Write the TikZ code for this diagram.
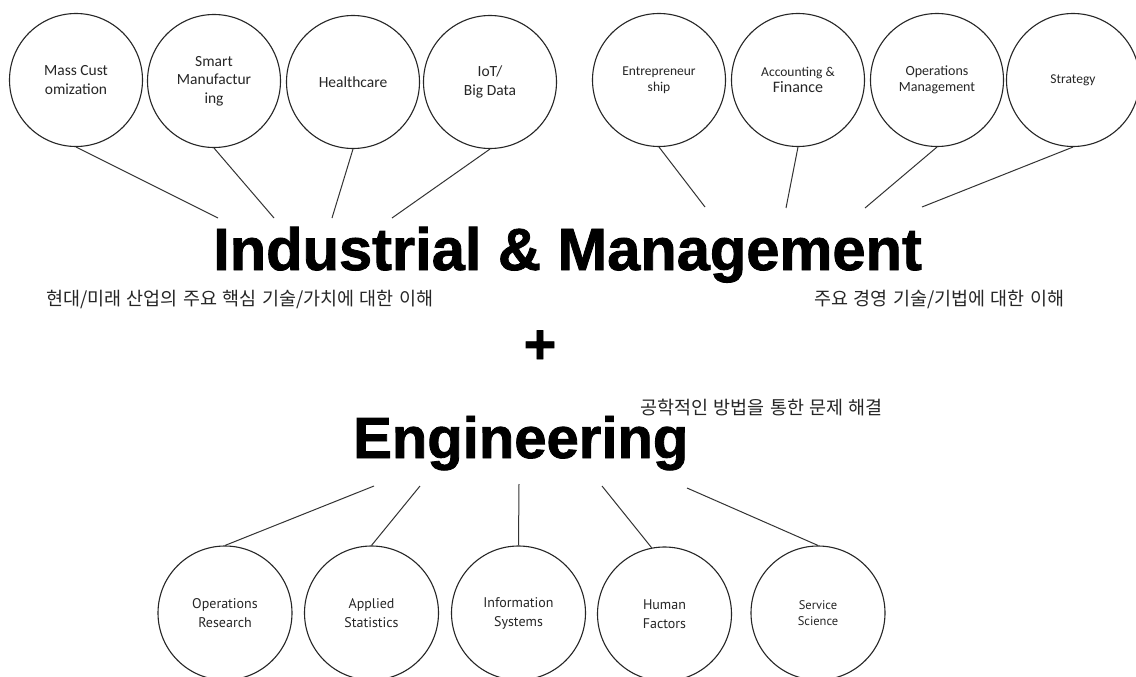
\documentclass[tikz,border=0pt]{standalone}
\usepackage{fontspec}
\setmainfont{Carlito}
\newfontfamily\titlefont[FakeBold=1.4]{Liberation Sans}
\newfontfamily\krfont[WordSpace=1.3]{Noto Sans CJK KR}
\newfontfamily\ptfont{PT Sans}
\begin{document}
\begin{tikzpicture}[x=1pt,y=-1pt,
  topc/.style={circle, draw=black!85, line width=1.1pt, minimum size=133pt, inner sep=0pt, align=center, font=\fontsize{15.5}{18.5}\selectfont, text=black!85},
  botc/.style={circle, draw=black!85, line width=1.1pt, minimum size=134pt, inner sep=0pt, align=center, font=\ptfont\fontsize{14}{19}\selectfont, text=black!85},
  conn/.style={draw=black!80, line width=1pt},
  title/.style={font=\titlefont\bfseries\fontsize{59.6}{60}\selectfont, inner sep=0pt},
  kr/.style={font=\krfont\fontsize{18.5}{21}\selectfont, inner sep=0pt, text=black!85}
]
\useasboundingbox[fill=white] (0,0) rectangle (1136,677);

% top circles
\node[topc] (c1) at (76,80) {Mass Cust\\omization};
\node[topc] (c2) at (214,81) {Smart\\Manufactur\\ing};
\node[topc] (c3) at (353,82) {Healthcare};
\node[topc] (c4) at (490,82) {IoT/\\Big Data};
\node[topc, font=\fontsize{13.5}{16}\selectfont] (c5) at (659,80) {Entrepreneur\\ship};
\node[topc, font=\fontsize{13.5}{16}\selectfont] (c6) at (798,80) {Accounting \&\\{\fontsize{16}{16}\selectfont Finance}};
\node[topc, font=\fontsize{14}{16}\selectfont] (c7) at (937,80) {Operations\\Management};
\node[topc, font=\fontsize{13.5}{16}\selectfont] (c8) at (1073,80) {Strategy};

\coordinate (e1) at (218,218);
\coordinate (e2) at (274,218);
\coordinate (e3) at (332,218);
\coordinate (e4) at (392,218);
\coordinate (e5) at (705,207);
\coordinate (e6) at (786,208);
\coordinate (e7) at (865,208);
\coordinate (e8) at (922,207);

\draw[conn] (c1.south) -- (e1);
\draw[conn] (c2.south) -- (e2);
\draw[conn] (c3.south) -- (e3);
\draw[conn] (c4.south) -- (e4);
\draw[conn] (c5.south) -- (e5);
\draw[conn] (c6.south) -- (e6);
\draw[conn] (c7.south) -- (e7);
\draw[conn] (c8.south) -- (e8);

% titles
\node[title, anchor=base west] (t1) at (213,270) {Industrial \& Management};
\node[kr, anchor=west] (k1) at (46,300) {현대/미래 산업의 주요 핵심 기술/가치에 대한 이해};
\node[kr, anchor=west] (k2) at (814,300) {주요 경영 기술/기법에 대한 이해};
\node[title, font=\titlefont\bfseries\fontsize{56}{56}\selectfont] (plus) at (540,347) {+};
\node[kr, anchor=west] (k3) at (640,408) {공학적인 방법을 통한 문제 해결};
\node[title, anchor=base west, font=\titlefont\bfseries\fontsize{58}{58}\selectfont] (t2) at (353,458) {Engineering};

% bottom circles
\node[botc] (b1) at (225,613) {Operations\\Research};
\node[botc] (b2) at (371.5,613) {Applied\\Statistics};
\node[botc] (b3) at (518.5,613) {Information\\Systems};
\node[botc] (b4) at (664.5,614) {Human\\Factors};
\node[botc, font=\ptfont\fontsize{12.5}{16}\selectfont] (b5) at (818,613) {Service\\Science};

\coordinate (f1) at (374,486);
\coordinate (f2) at (420,486);
\coordinate (f3) at (519,484);
\coordinate (f4) at (602,486);
\coordinate (f5) at (687,488);

\draw[conn] (f1) -- (b1.north);
\draw[conn] (f2) -- (b2.north);
\draw[conn] (f3) -- (b3.north);
\draw[conn] (f4) -- (b4.101);
\draw[conn] (f5) -- (b5.north);
\end{tikzpicture}
\end{document}
